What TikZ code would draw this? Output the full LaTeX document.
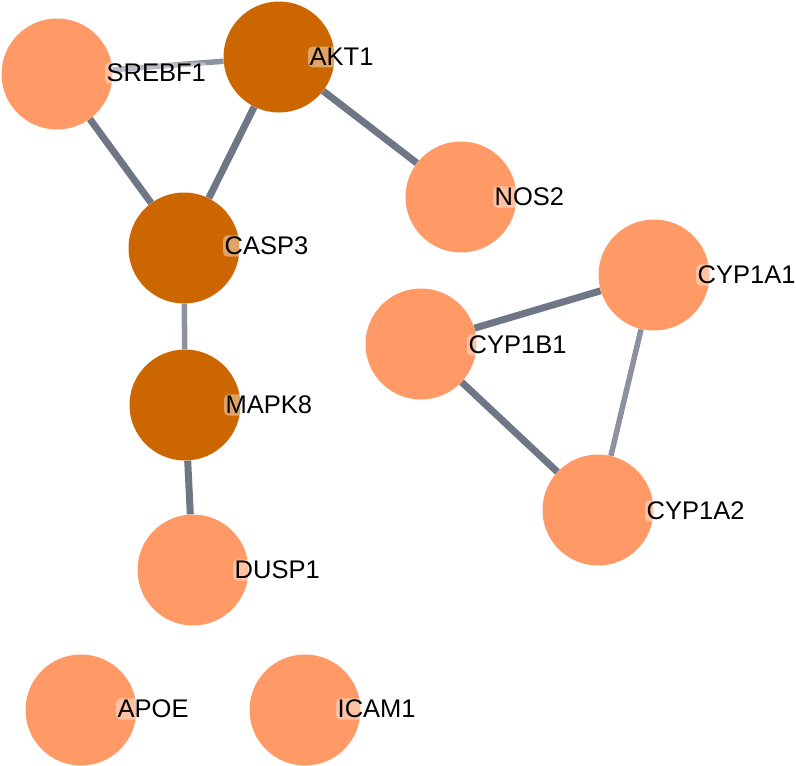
\documentclass[tikz,border=0pt]{standalone}
\usepackage{fontspec}
\setmainfont{Liberation Sans}
\usepackage{xcolor}
\usetikzlibrary{backgrounds}
\definecolor{peach}{HTML}{FF9966}
\definecolor{rust}{HTML}{CC6600}
\definecolor{wire}{HTML}{6F7787}

\begin{document}
\begin{tikzpicture}[x=1pt, y=-1pt,
    gene/.style={circle, fill=peach, minimum size=111pt, inner sep=0pt},
    hub/.style={gene, fill=rust},
    tag/.style={anchor=west, inner sep=1.5pt, rounded corners=4pt, fill=white,
        fill opacity=0.4, text opacity=1, font=\fontsize{25.5}{25.5}\selectfont},
    link/.style={draw=wire, line width=7pt},
    faint/.style={link, draw opacity=0.8, line width=5.5pt}]
    \useasboundingbox (0,0) rectangle (796,766);
    % proteins
    \node[gene] (srebf) at (57,74) {};
    \node[hub]  (akt)   at (279,57) {};
    \node[gene] (nos)   at (461,197) {};
    \node[hub]  (casp)  at (184,248) {};
    \node[gene] (cypaa) at (654,275) {};
    \node[gene] (cypb)  at (421,344) {};
    \node[hub]  (mapk)  at (185,405) {};
    \node[gene] (cypab) at (598,510) {};
    \node[gene] (dusp)  at (193,570) {};
    \node[gene] (apoe)  at (81,710) {};
    \node[gene] (icam)  at (305,710) {};
    % names
    \node[tag] (srebf-t) at (105,73) {SREBF1};
    \node[tag] (akt-t)   at (308,57) {AKT1};
    \node[tag] (nos-t)   at (493,197) {NOS2};
    \node[tag] (casp-t)  at (223,246) {CASP3};
    \node[tag] (cypaa-t) at (696,275) {CYP1A1};
    \node[tag] (cypb-t)  at (467,345) {CYP1B1};
    \node[tag] (mapk-t)  at (224,405) {MAPK8};
    \node[tag] (cypab-t) at (645,511) {CYP1A2};
    \node[tag] (dusp-t)  at (233,570) {DUSP1};
    \node[tag] (apoe-t)  at (116,709) {APOE};
    \node[tag] (icam-t)  at (336,709) {ICAM1};
    % interactions
    \begin{scope}[on background layer]
        \draw[faint] (srebf) -- (akt);
        \draw[link] (srebf) -- (casp);
        \draw[link] (akt) -- (casp);
        \draw[link] (akt) -- (nos);
        \draw[faint] (casp) -- (mapk);
        \draw[link] (mapk) -- (dusp);
        \draw[link] (cypb) -- (cypaa);
        \draw[link] (cypb) -- (cypab);
        \draw[faint] (cypaa) -- (cypab);
    \end{scope}
\end{tikzpicture}
\end{document}
